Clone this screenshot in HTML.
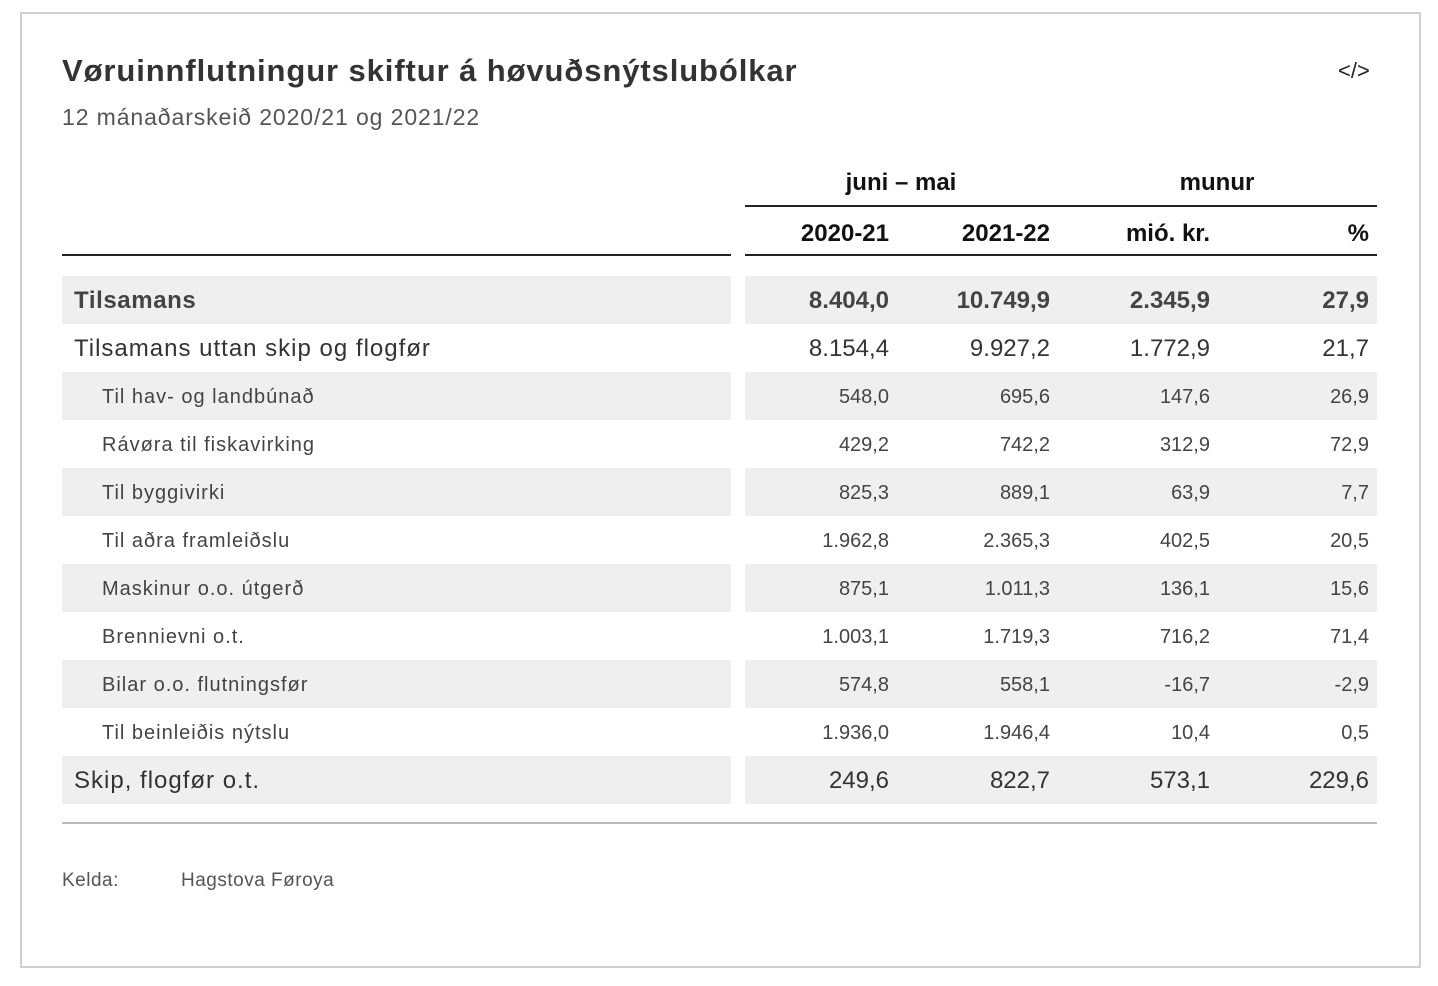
<!DOCTYPE html>
<html><head><meta charset="utf-8"><style>
body{margin:0;width:1438px;height:986px;background:#fff;font-family:"Liberation Sans",sans-serif;position:relative;overflow:hidden}
.box{position:absolute;left:20px;top:12px;width:1397px;height:952px;border:2px solid #d0d0d0}
.a{position:absolute;white-space:nowrap}
.bg{position:absolute;height:48px;background:#efefef}
.r{position:absolute;text-align:right;white-space:nowrap}
.w{letter-spacing:0.05em}
</style></head><body>
<div class="box"></div>
<div class="a" style="left:62px;top:53px;font-size:31px;font-weight:bold;color:#333;letter-spacing:0.9px">Vøruinnflutningur skiftur á høvuðsnýtslubólkar</div>
<div class="a" style="left:1338px;top:58px;font-size:22px;color:#222">&lt;/&gt;</div>
<div class="a" style="left:62px;top:104px;font-size:23px;color:#555;letter-spacing:0.9px">12 mánaðarskeið 2020/21 og 2021/22</div>

<div class="a" style="left:745px;width:312px;text-align:center;top:169px;font-size:24px;font-weight:bold;color:#111">juni – mai</div>
<div class="a" style="left:1057px;width:320px;text-align:center;top:169px;font-size:24px;font-weight:bold;color:#111">munur</div>
<div class="a" style="left:745px;top:205px;width:632px;height:2px;background:#222"></div>
<div class="r" style="left:745px;width:144px;top:220px;font-size:24px;font-weight:bold;color:#111">2020-21</div>
<div class="r" style="left:897px;width:153px;top:220px;font-size:24px;font-weight:bold;color:#111">2021-22</div>
<div class="r" style="left:1057px;width:153px;top:220px;font-size:24px;font-weight:bold;color:#111">mió. kr.</div>
<div class="r" style="left:1217px;width:152px;top:220px;font-size:24px;font-weight:bold;color:#111">%</div>
<div class="a" style="left:62px;top:254px;width:669px;height:2px;background:#222"></div>
<div class="a" style="left:745px;top:254px;width:632px;height:2px;background:#222"></div>

<div id="rows"></div>
<div class="a" style="left:62px;top:822px;width:1315px;height:2px;background:#bbb"></div>
<div class="a" style="left:62px;top:870px;font-size:19px;color:#555;letter-spacing:0.5px">Kelda:</div>
<div class="a" style="left:181px;top:870px;font-size:19px;color:#555;letter-spacing:0.5px">Hagstova Føroya</div>
<script>
var d=[["Tilsamans","8.404,0","10.749,9","2.345,9","27,9",0],
["Tilsamans uttan skip og flogfør","8.154,4","9.927,2","1.772,9","21,7",1],
["Til hav- og landbúnað","548,0","695,6","147,6","26,9",2],
["Rávøra til fiskavirking","429,2","742,2","312,9","72,9",2],
["Til byggivirki","825,3","889,1","63,9","7,7",2],
["Til aðra framleiðslu","1.962,8","2.365,3","402,5","20,5",2],
["Maskinur o.o. útgerð","875,1","1.011,3","136,1","15,6",2],
["Brennievni o.t.","1.003,1","1.719,3","716,2","71,4",2],
["Bilar o.o. flutningsfør","574,8","558,1","-16,7","-2,9",2],
["Til beinleiðis nýtslu","1.936,0","1.946,4","10,4","0,5",2],
["Skip, flogfør o.t.","249,6","822,7","573,1","229,6",1]];
var h="",cols=[[745,144],[897,153],[1057,153],[1217,152]];
d.forEach(function(r,i){var y=276+i*48;
if(i%2==0){h+='<div class="bg" style="left:62px;top:'+y+'px;width:669px"></div><div class="bg" style="left:745px;top:'+y+'px;width:632px"></div>';}
var fs=r[5]==2?20:24,fw=r[5]==0?'bold':'normal',col=r[5]==0?'#444':(r[5]==1?'#333':'#444');
var lx=r[5]==2?102:74,ty=y+(48-fs*1.15)/2+1;
h+='<div class="a" style="left:'+lx+'px;top:'+ty+'px;font-size:'+fs+'px;font-weight:'+fw+';color:'+col+';letter-spacing:'+(r[5]==0?0.6:1)+'px">'+r[0]+'</div>';
for(var c=0;c<4;c++)h+='<div class="r" style="left:'+cols[c][0]+'px;width:'+cols[c][1]+'px;top:'+ty+'px;font-size:'+fs+'px;font-weight:'+fw+';color:'+col+'">'+r[c+1]+'</div>';});
document.getElementById("rows").innerHTML=h;
</script>
</body></html>
